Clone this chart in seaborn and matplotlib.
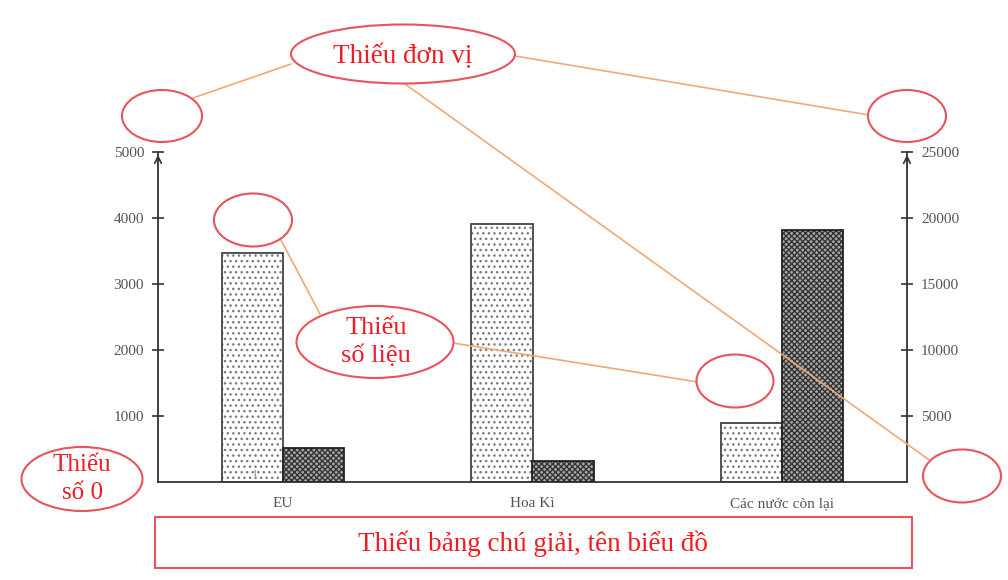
import numpy as np
import pandas as pd
import seaborn as sns
import matplotlib
matplotlib.use('Agg')
from matplotlib import pyplot as plt
from matplotlib.patches import Ellipse, Rectangle
from matplotlib.lines import Line2D

# du lieu doc tu hinh
categories = ['EU', 'Hoa Kì', 'Các nước còn lại']
series_left = [3470, 3910, 890]        # cot cham, truc trai
series_right = [2550, 1590, 19100]     # cot dam, truc phai
left_ticks = [1000, 2000, 3000, 4000, 5000]
right_ticks = [5000, 10000, 15000, 20000, 25000]

sns.set_theme(style='white')
plt.rcParams['font.family'] = ['Liberation Serif', 'DejaVu Serif']
plt.rcParams['hatch.linewidth'] = 1.0

W, H = 1008, 580
fig = plt.figure(figsize=(W / 100, H / 100), dpi=100)
ax = fig.add_axes([158 / W, 1 - 482 / H, (907 - 158) / W, (482 - 152) / H])
ax2 = ax.twinx()

df = pd.DataFrame({
    'cat': categories * 2,
    'series': ['a'] * 3 + ['b'] * 3,
    'left': series_left + [np.nan] * 3,
    'right': [np.nan] * 3 + series_right,
})

sns.barplot(data=df, x='cat', y='left', hue='series', hue_order=['a', 'b'],
            dodge=True, width=0.49, ax=ax, legend=False,
            palette=['white', 'white'], errorbar=None)
sns.barplot(data=df, x='cat', y='right', hue='series', hue_order=['a', 'b'],
            dodge=True, width=0.49, ax=ax2, legend=False,
            palette=['#9a9a9a', '#9a9a9a'], errorbar=None)


def outline(a, p, color):
    # vien den quanh cot, lay vi tri tu chinh cot seaborn da ve
    a.add_patch(Rectangle(p.get_xy(), p.get_width(), p.get_height(), fill=False,
                          edgecolor=color, lw=1.3, zorder=p.get_zorder() + 0.1))


for p in list(ax.patches):
    p.set_hatch('...')
    p.set_facecolor('white')
    p.set_edgecolor('#7a7a7a')
    p.set_linewidth(0)
    outline(ax, p, '#444444')
for p in list(ax2.patches):
    p.set_hatch('xxxxxx')
    p.set_facecolor('#a8a8a8')
    p.set_edgecolor('#333333')
    p.set_linewidth(0)
    outline(ax2, p, '#222222')

ax.set_xlim(-0.5, 2.5)
ax.set_ylim(0, 5000)
ax2.set_ylim(0, 25000)
ax.set_yticks(left_ticks)
ax2.set_yticks(right_ticks)
ax.set_xlabel('')
ax.set_ylabel('')
ax2.set_ylabel('')
ax2.set_xlabel('')
ax.grid(False)
ax2.grid(False)

for s in ['top', 'right']:
    ax.spines[s].set_visible(False)
for s in ['top', 'left', 'bottom']:
    ax2.spines[s].set_visible(False)
for sp in [ax.spines['left'], ax.spines['bottom'], ax2.spines['right']]:
    sp.set_color('#333333')
    sp.set_linewidth(1.3)

ax.tick_params(axis='y', direction='inout', length=8, width=1.2, color='#333333',
               labelsize=11, labelcolor='#555555', pad=6, left=True)
ax2.tick_params(axis='y', direction='inout', length=8, width=1.2, color='#333333',
                labelsize=11, labelcolor='#555555', pad=6, right=True)
ax.tick_params(axis='x', length=0, labelsize=11, labelcolor='#555555', pad=11)

# mui ten tren dau truc
ax.annotate('', xy=(0, 1.0), xytext=(0, 0.96), xycoords='axes fraction',
            arrowprops=dict(arrowstyle='->', lw=1.2, color='#333333'))
ax.annotate('', xy=(1, 1.0), xytext=(1, 0.96), xycoords='axes fraction',
            arrowprops=dict(arrowstyle='->', lw=1.2, color='#333333'))

ax.text(-0.115, 60, '1', fontsize=6, color='#666666', ha='center', va='bottom')

# phan chu thich loi (toa do pixel)
red = '#ee1c25'
ring = '#e8545c'
orange = '#f2a874'


def fx(x):
    return x / W


def fy(y):
    return 1 - y / H


lines = [
    ((291, 64), (193, 98)),
    ((515, 56), (869, 115)),
    ((405, 84), (932, 462)),
    ((320, 314), (281, 240)),
    ((453, 343), (698, 382)),
]
for (x1, y1), (x2, y2) in lines:
    fig.add_artist(Line2D([fx(x1), fx(x2)], [fy(y1), fy(y2)], color=orange, lw=1.2,
                          transform=fig.transFigure, zorder=5))

ellipses = [
    (403, 54, 224, 59),
    (162, 116, 80, 52),
    (907, 116, 78, 52),
    (253, 220, 78, 53),
    (375, 342, 157, 72),
    (735, 381, 77, 53),
    (962, 476, 78, 53),
    (82, 479, 121, 64),
]
for cx, cy, w, h in ellipses:
    fig.add_artist(Ellipse((fx(cx), fy(cy)), w / W, h / H, facecolor='white',
                           edgecolor=ring, lw=1.5, transform=fig.transFigure, zorder=6))

fig.text(fx(403), fy(56), 'Thiếu đơn vị', color=red, fontsize=19.5, ha='center', va='center', zorder=7)
fig.text(fx(376), fy(342), 'Thiếu\nsố liệu', color=red, fontsize=19, ha='center', va='center',
         linespacing=1.3, zorder=7)
fig.text(fx(82), fy(479), 'Thiếu\nsố 0', color=red, fontsize=18, ha='center', va='center',
         linespacing=1.3, zorder=7)

fig.add_artist(Rectangle((fx(155), fy(568)), (912 - 155) / W, (568 - 517) / H, facecolor='white',
                         edgecolor=ring, lw=1.5, transform=fig.transFigure, zorder=6))
fig.text(fx(533), fy(544), 'Thiếu bảng chú giải, tên biểu đồ', color=red, fontsize=19.5,
         ha='center', va='center', zorder=7)

fig.savefig('out.png', dpi=100)
